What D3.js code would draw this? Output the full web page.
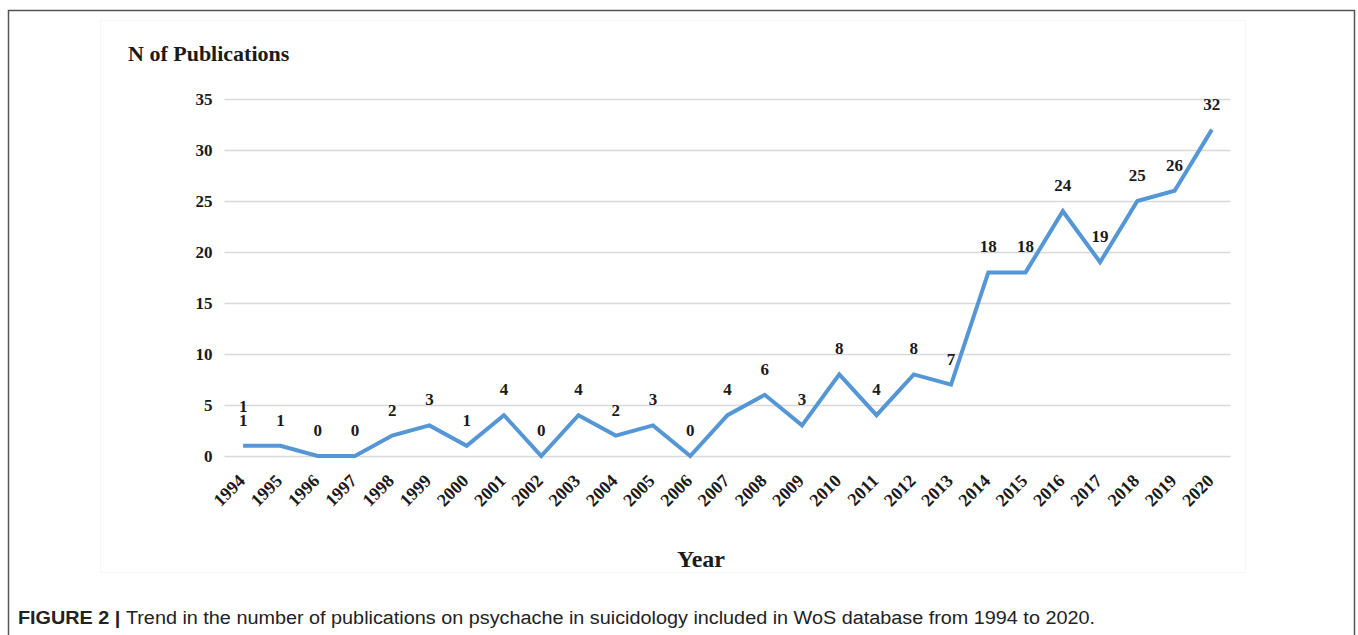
<!DOCTYPE html>
<html lang="en">
<head>
<meta charset="UTF-8">
<title>N of Publications</title>
<script src="https://d3js.org/d3.v7.min.js"></script>
<style>
  body { margin: 0; background: #fff; }
  svg text { font-family: "Liberation Serif", "Times New Roman", serif; }
</style>
</head>
<body>
<div id="graph-container"></div>
<script>
// data
const years = ["1994","1995","1996","1997","1998","1999","2000","2001","2002","2003","2004","2005","2006",
               "2007","2008","2009","2010","2011","2012","2013","2014","2015","2016","2017","2018","2019","2020"]
const pubs = [1,1,0,0,2,3,1,4,0,4,2,3,0,4,6,3,8,4,8,7,18,18,24,19,25,26,32]
const yTicks = [0,5,10,15,20,25,30,35]

const w = 1358, h = 635
const plotLeft = 224.5, plotRight = 1230.5, plotTop = 99, plotBottom = 456

const svg = d3.select("#graph-container")
  .append("svg")
  .attr("width", w)
  .attr("height", h)

// outer frame
svg.append("rect")
  .attr("x", 8.5).attr("y", 10.5)
  .attr("width", 1346).attr("height", 640)
  .attr("fill", "none").attr("stroke", "#555").attr("stroke-width", 1.5)

// faint chart area border
svg.append("rect")
  .attr("x", 100.5).attr("y", 20.5)
  .attr("width", 1145).attr("height", 552)
  .attr("fill", "none").attr("stroke", "#f6f6f6").attr("stroke-width", 1)

const xScale = d3.scaleBand()
  .domain(years)
  .range([plotLeft, plotRight])

const yScale = d3.scaleLinear()
  .domain([0, 35])
  .range([plotBottom, plotTop])

// gridlines + y labels
const yAxis = d3.axisLeft(yScale)
  .tickValues(yTicks)
  .tickSize(-(plotRight - plotLeft))
  .tickPadding(12)

const gy = svg.append("g")
  .attr("transform", "translate(" + plotLeft + ",0)")
  .call(yAxis)
gy.select(".domain").remove()
gy.selectAll(".tick line").attr("stroke", "#d9d9d9").attr("stroke-width", 1.5)
gy.selectAll(".tick text")
  .attr("fill", "#1a1a1a")
  .style("font-size", "17px")
  .style("font-weight", "bold")
  .style("font-family", "'Liberation Serif', serif")

// x labels rotated
const xAxis = d3.axisBottom(xScale).tickSize(0).tickPadding(0)
const gx = svg.append("g")
  .attr("transform", "translate(0," + plotBottom + ")")
  .call(xAxis)
gx.select(".domain").remove()
gx.selectAll(".tick text")
  .attr("fill", "#1a1a1a")
  .style("font-size", "18px")
  .style("font-weight", "bold")
  .style("font-family", "'Liberation Serif', serif")
  .attr("text-anchor", "end")
  .attr("dy", 0)
  .attr("transform", "translate(3,26) rotate(-45)")

// line
const line = d3.line()
  .x((d, i) => xScale(years[i]) + xScale.bandwidth() / 2)
  .y(d => yScale(d))

svg.append("path")
  .datum(pubs)
  .attr("d", line)
  .attr("fill", "none")
  .attr("stroke", "#5496d6")
  .attr("stroke-width", 4)
  .attr("stroke-linejoin", "miter")

// data labels
svg.selectAll(".lbl")
  .data(pubs)
  .enter()
  .append("text")
  .attr("class", "lbl")
  .attr("x", (d, i) => xScale(years[i]) + xScale.bandwidth() / 2)
  .attr("y", d => yScale(d) - 20)
  .attr("text-anchor", "middle")
  .style("font-size", "17px")
  .style("font-weight", "bold")
  .attr("fill", "#1a1a1a")
  .text(d => d)

// the duplicated label on 1994 in the original
svg.append("text")
  .attr("x", xScale(years[0]) + xScale.bandwidth() / 2)
  .attr("y", yScale(pubs[0]) - 34)
  .attr("text-anchor", "middle")
  .style("font-size", "17px")
  .style("font-weight", "bold")
  .attr("fill", "#1a1a1a")
  .text(pubs[0])

// titles
svg.append("text")
  .attr("x", 128).attr("y", 61)
  .style("font-size", "22px").style("font-weight", "bold")
  .attr("fill", "#1a1a1a")
  .text("N of Publications")

svg.append("text")
  .attr("x", 701).attr("y", 567)
  .attr("text-anchor", "middle")
  .style("font-size", "24px").style("font-weight", "bold")
  .attr("fill", "#1a1a1a")
  .text("Year")

// caption
const cap = svg.append("text")
  .attr("x", 18).attr("y", 624)
  .attr("textLength", 1077)
  .attr("lengthAdjust", "spacingAndGlyphs")
  .style("font-family", "'Liberation Sans', Arial, sans-serif")
  .style("font-size", "18px")
  .attr("fill", "#222")
cap.append("tspan").style("font-weight", "bold").text("FIGURE 2 | ")
cap.append("tspan").text("Trend in the number of publications on psychache in suicidology included in WoS database from 1994 to 2020.")
</script>
</body>
</html>
